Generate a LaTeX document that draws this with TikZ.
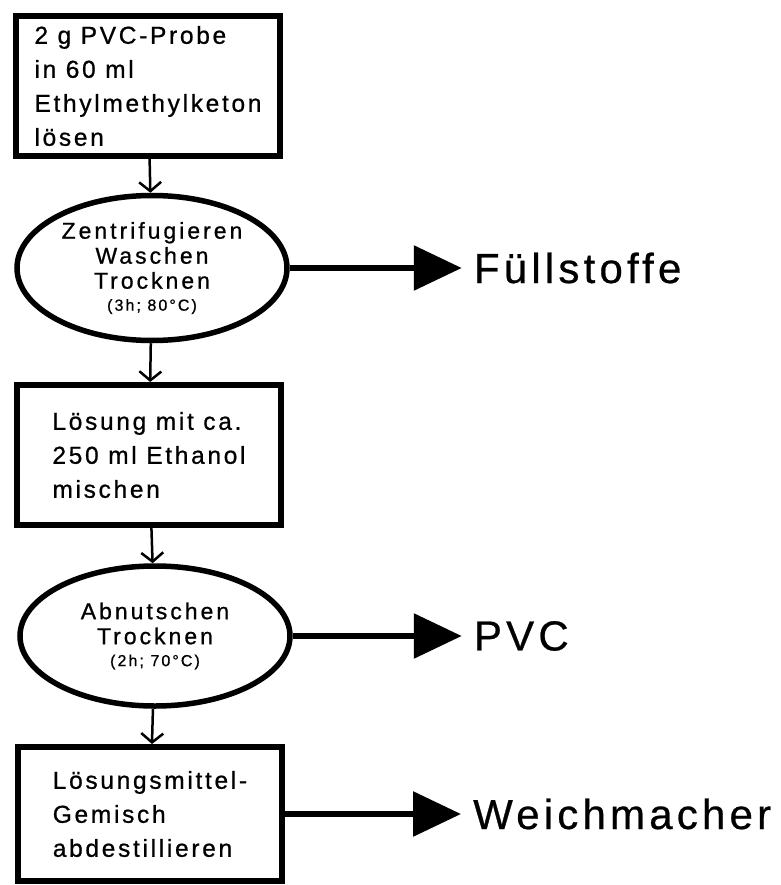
\documentclass[tikz,border=0pt]{standalone}
\usepackage{fontspec}
\setmainfont{Liberation Sans}
\newfontfamily\boxfont[LetterSpace=11,FakeBold=0.8]{Liberation Sans}
\newfontfamily\ovalfont[LetterSpace=13,FakeBold=0.8]{Liberation Sans}
\newfontfamily\endfont[LetterSpace=10,FakeBold=0.6]{Liberation Sans}
\usetikzlibrary{positioning,shapes.geometric,arrows.meta}
\newcommand\smalltext[1]{{\fontsize{16}{18}\selectfont #1}}
\begin{document}
\begin{tikzpicture}[x=1pt,y=-1pt,
	stepbox/.style={draw,rectangle,line width=6pt,inner sep=0pt,align=left,
		minimum width=264pt,minimum height=140pt,
		font=\boxfont\fontsize{24.5}{34}\selectfont},
	oval/.style={draw,ellipse,line width=5.5pt,inner sep=0pt,align=center,
		minimum width=270pt,minimum height=145pt,
		font=\ovalfont\fontsize{23}{25}\selectfont},
	product/.style={anchor=west,inner xsep=12pt,inner ysep=0pt,
		font=\endfont\fontsize{42}{48}\selectfont},
	flow/.style={line width=2.5pt,-{Straight Barb[length=9pt,width=22pt]}},
	yield/.style={line width=6pt,-{Triangle[length=48pt,width=44pt]}}]
\useasboundingbox (0,0) rectangle (780,885);
\node[stepbox] (probe) at (148,86) {2 g PVC-Probe\\in 60 ml\\Ethylmethylketon\\lösen};
\node[oval] (zentri) at (152,268) {Zentrifugieren\\Waschen\\Trocknen\\[-3pt]\smalltext{(3h; 80°C)}};
\node[stepbox] (ethanol) at (149,455) {Lösung mit ca.\\250 ml Ethanol\\mischen};
\node[oval,minimum height=140pt] (nutsche) at (155,636) {Abnutschen\\Trocknen\\[-3pt]\smalltext{(2h; 70°C)}};
\node[stepbox,minimum height=134pt] (destill) at (150,814) {Lösungsmittel-\\Gemisch\\abdestillieren};
\node[product,right=172pt of zentri] (fuell) {Füllstoffe};
\node[product,right=169pt of nutsche] (pvc) {PVC};
\node[product,right=176pt of destill] (weich) {Weichmacher};
\draw[flow] (probe) -- (zentri);
\draw[flow] (zentri) -- (ethanol);
\draw[flow] (ethanol) -- (nutsche);
\draw[flow] (nutsche) -- (destill);
\draw[yield] (zentri) -- (fuell);
\draw[yield] (nutsche) -- (pvc);
\draw[yield] (destill) -- (weich);
\end{tikzpicture}
\end{document}
